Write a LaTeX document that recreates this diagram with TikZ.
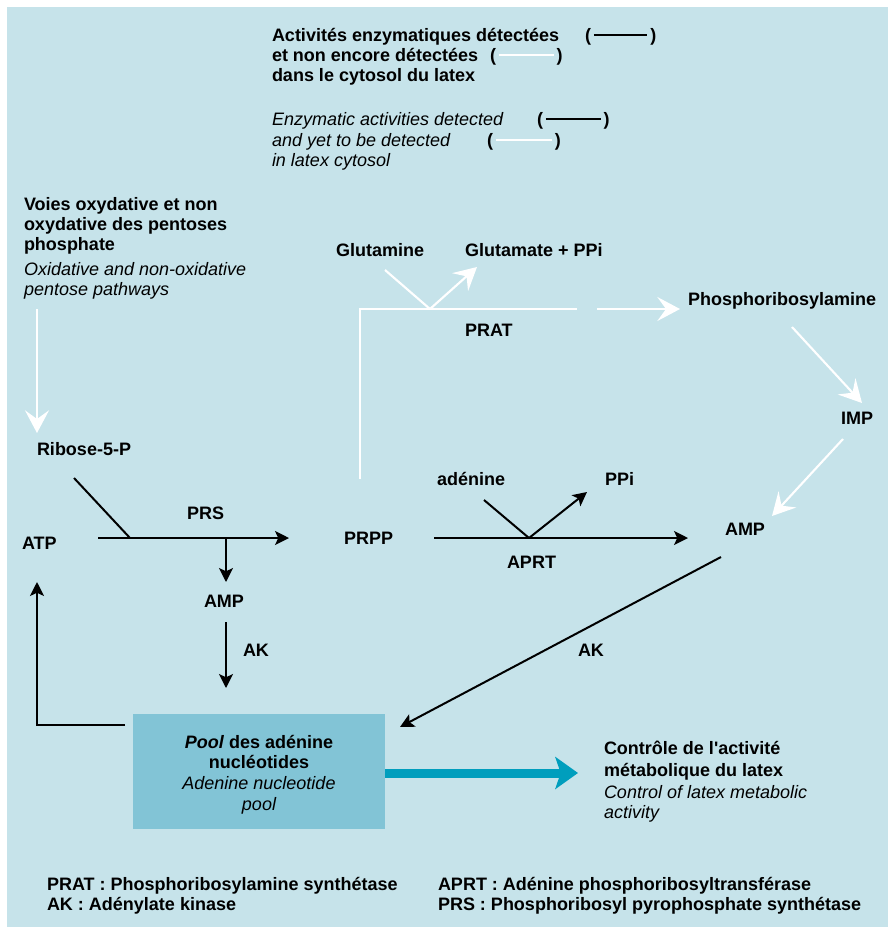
\documentclass[tikz,border=0pt]{standalone}
\usepackage{fontspec}
\setmainfont{Liberation Sans}
\usetikzlibrary{arrows.meta}
\definecolor{bgc}{HTML}{C6E3EA}
\definecolor{poolc}{HTML}{82C4D6}
\definecolor{tealarrow}{HTML}{009EBD}
\newcommand{\blkrule}[1]{(\,\rule[0.3em]{#1}{1.5pt}\,)}
\newcommand{\whtrule}[1]{(\,\textcolor{white}{\rule[0.3em]{#1}{1.5pt}}\,)}
\newcommand{\straightapos}{{\XeTeXglyph\XeTeXcharglyph"0027\relax}}
\begin{document}
\begin{tikzpicture}[x=0.75pt,y=-0.75pt,
  every node/.style={inner sep=0pt, outer sep=0pt},
  lbl/.style={anchor=base west, font=\fontsize{13.5}{15}\selectfont\bfseries},
  itl/.style={anchor=base west, font=\fontsize{13.5}{15}\selectfont\itshape},
  ctr/.style={anchor=base, font=\fontsize{13.5}{15}\selectfont\bfseries},
  ctri/.style={anchor=base, font=\fontsize{13.5}{15}\selectfont\itshape},
  blk/.style={line width=1.5pt, draw=black},
  blkarr/.style={blk, -{Stealth[length=10.5pt,width=10.5pt,inset=2.5pt]}},
  wht/.style={line width=1.6pt, draw=white},
  whtarr/.style={wht, -{Stealth[length=17pt,width=18pt,inset=6.5pt]}},
  tealarr/.style={line width=6.75pt, draw=tealarrow, -{Stealth[length=17pt,width=24pt,inset=4pt]}},
]
\useasboundingbox (0,0) rectangle (890,933);
\fill[bgc] (7,7) rectangle (888,927);

% legend
\node[lbl] (l1) at (272,41) {Activités enzymatiques détectées};
\node[lbl] (l1s) at (585,41) {\blkrule{40pt}};
\node[lbl] (l2) at (272,61) {et non encore détectées};
\node[lbl] (l2s) at (490,61) {\whtrule{41pt}};
\node[lbl] (l3) at (272,81) {dans le cytosol du latex};
\node[itl] (e1) at (272,125) {Enzymatic activities detected};
\node[lbl] (e1s) at (537,125) {\blkrule{41pt}};
\node[itl] (e2) at (272,146) {and yet to be detected};
\node[lbl] (e2s) at (487,146) {\whtrule{42pt}};
\node[itl] (e3) at (272,166) {in latex cytosol};

% pentose block
\node[lbl] (v1) at (24,210) {Voies oxydative et non};
\node[lbl] (v2) at (24,230) {oxydative des pentoses};
\node[lbl] (v3) at (24,250) {phosphate};
\node[itl] (v4) at (24,275) {Oxidative and non-oxidative};
\node[itl] (v5) at (24,295) {pentose pathways};
\coordinate (vbot) at (37,309);
\node[lbl] (ribose) at (37,455) {Ribose-5-P};
\coordinate (ribtop) at (37,433);
\draw[whtarr] (vbot) -- (ribtop);

% PRS reaction
\node[lbl] (atp) at (22,549) {ATP};
\node[lbl] (prs) at (187,519) {PRS};
\node[lbl] (amp1) at (204,607) {AMP};
\node[lbl] (ak1) at (243,656) {AK};
\node[lbl] (prpp) at (344,544) {PRPP};
\coordinate (prsA) at (98,538);
\coordinate (prsB) at (289,538);
\coordinate (prsJ) at (130,538);
\coordinate (ribd) at (74,478);
\coordinate (prsK) at (226,538);
\coordinate (amp1top) at (226,582);
\coordinate (amp1bot) at (226,622);
\coordinate (pooltop) at (226,688);
\draw[blkarr] (prsA) -- (prsB);
\draw[blk] (ribd) -- (prsJ);
\draw[blkarr] (prsK) -- (amp1top);
\draw[blkarr] (amp1bot) -- (pooltop);

% pool box
\node[fill=poolc, minimum width=252*0.75pt, minimum height=115*0.75pt, anchor=north west] (pool) at (133,714) {};
\node[ctr] (p1) at (259,748) {\textit{Pool} des adénine};
\node[ctr] (p2) at (259,768) {nucléotides};
\node[ctri] (p3) at (259,789) {Adenine nucleotide};
\node[ctri] (p4) at (259,810) {pool};

% loop back to ATP
\coordinate (loopA) at (125,725);
\coordinate (loopB) at (37,725);
\coordinate (atpbot) at (37,582);
\draw[blkarr] (loopA) -- (loopB) -- (atpbot);

% PRAT branch
\node[lbl] (gln) at (336,256) {Glutamine};
\node[lbl] (glu) at (465,256) {Glutamate + PPi};
\node[lbl] (prat) at (465,336) {PRAT};
\node[lbl] (pra) at (688,305) {Phosphoribosylamine};
\coordinate (prppup) at (360,479);
\coordinate (corner) at (360,309);
\coordinate (gap1) at (577,309);
\coordinate (gap2) at (597,309);
\coordinate (praleft) at (680,309);
\coordinate (glnd) at (385,270);
\coordinate (pratJ) at (430,309);
\coordinate (glut) at (477,267);
\draw[wht] (prppup) -- (corner) -- (gap1);
\draw[whtarr] (gap2) -- (praleft);
\draw[wht] (glnd) -- (pratJ);
\draw[whtarr] (pratJ) -- (glut);

\node[lbl] (imp) at (841,424) {IMP};
\node[lbl] (amp2) at (725,535) {AMP};
\coordinate (prab) at (792,327);
\coordinate (impt) at (862,403);
\coordinate (impb) at (843,439);
\coordinate (amp2t) at (772,516);
\draw[whtarr] (prab) -- (impt);
\draw[whtarr] (impb) -- (amp2t);

% APRT reaction
\node[lbl] (ade) at (437,485) {adénine};
\node[lbl] (ppi) at (605,485) {PPi};
\node[lbl] (aprt) at (507,568) {APRT};
\coordinate (aprtA) at (434,538);
\coordinate (aprtB) at (688,538);
\coordinate (adeD) at (484,500);
\coordinate (aprtJ) at (529,538);
\coordinate (ppiT) at (587,492);
\draw[blkarr] (aprtA) -- (aprtB);
\draw[blk] (adeD) -- (aprtJ);
\draw[blkarr] (aprtJ) -- (ppiT);

% AK from AMP to pool
\node[lbl] (ak2) at (578,656) {AK};
\coordinate (amp2b) at (721,557);
\coordinate (poolne) at (400,727);
\draw[blkarr] (amp2b) -- (poolne);

% control
\coordinate (poolE) at (385,773);
\coordinate (ctrlW) at (578,773);
\draw[tealarr] (poolE) -- (ctrlW);
\node[lbl] (c1) at (604,754) {Contrôle de l\straightapos activité};
\node[lbl] (c2) at (604,776) {métabolique du latex};
\node[itl] (c3) at (604,798) {Control of latex metabolic};
\node[itl] (c4) at (604,818) {activity};

% abbreviations
\node[lbl] (b1) at (47,890) {PRAT : Phosphoribosylamine synthétase};
\node[lbl] (b2) at (47,910) {AK : Adénylate kinase};
\node[lbl] (b3) at (438,890) {APRT : Adénine phosphoribosyltransférase};
\node[lbl] (b4) at (438,910) {PRS : Phosphoribosyl pyrophosphate synthétase};
\end{tikzpicture}
\end{document}
